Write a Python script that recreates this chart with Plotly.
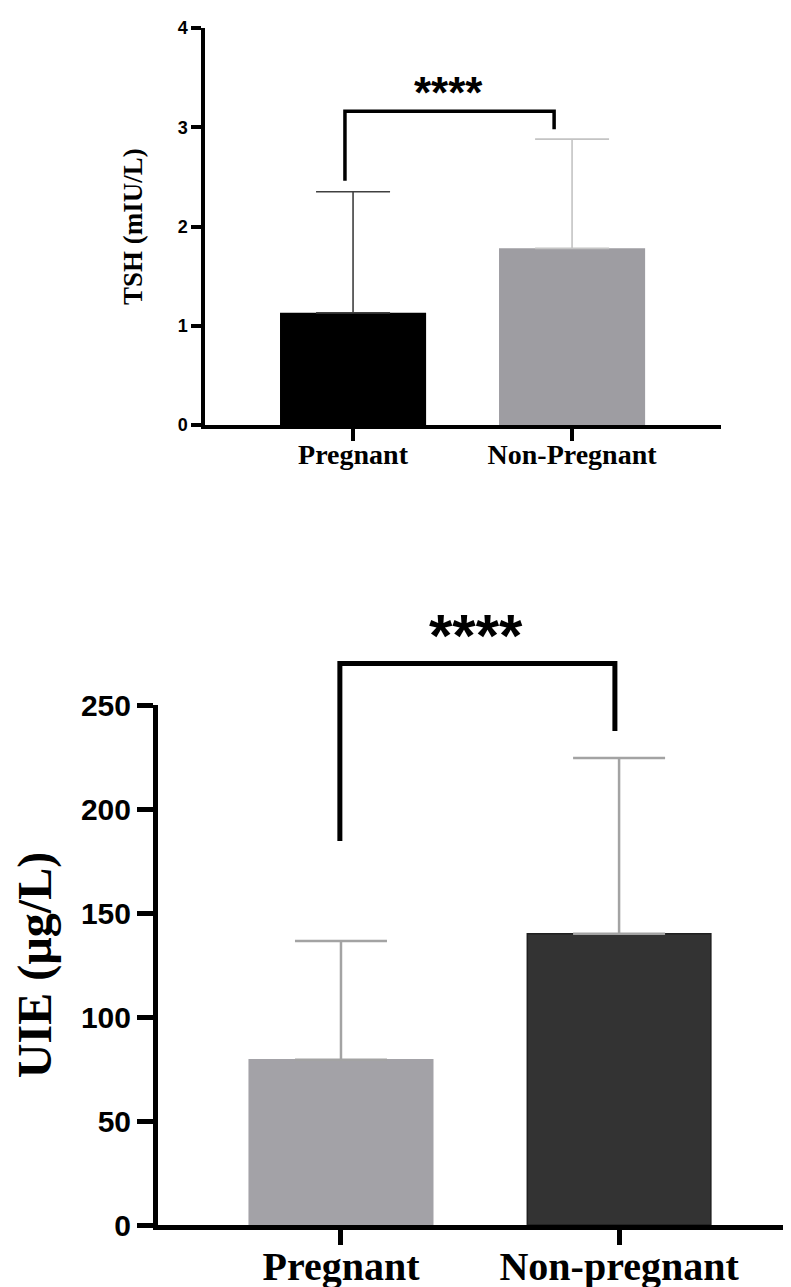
import plotly.graph_objects as go

# ---------------- data ----------------
tsh_categories = ["Pregnant", "Non-Pregnant"]
tsh_mean = [1.13, 1.78]
tsh_sd = [1.22, 1.10]
tsh_ticks = [0, 1, 2, 3, 4]
tsh_sig = "****"
tsh_bracket = [2.46, 3.16, 2.98]   # left foot, top, right foot (mIU/L)

uie_categories = ["Pregnant", "Non-pregnant"]
uie_mean = [79.5, 140.0]
uie_sd = [57.0, 84.5]
uie_ticks = [0, 50, 100, 150, 200, 250]
uie_sig = "****"
uie_bracket = [184.6, 270.0, 237.5]

# ---------------- styles ----------------
W, H = 791, 1287
tsh_bar_colors = ["#000000", "#9e9da2"]
tsh_err_colors = ["#404040", "#c4c4c4"]
uie_bar_colors = ["#a3a2a7", "#333333"]
uie_line_colors = ["#a3a2a7", "#1f1f1f"]
uie_err_colors = ["#a3a3a3", "#a3a3a3"]

serif = "Liberation Serif, Times New Roman, serif"
sans = "Liberation Sans, Arial, sans-serif"

fig = go.Figure()

tsh_x = list(range(len(tsh_categories)))
for i, cat in enumerate(tsh_categories):
    fig.add_trace(go.Bar(
        x=[tsh_x[i]], y=[tsh_mean[i]], name=cat, width=0.667,
        marker=dict(color=tsh_bar_colors[i], line=dict(width=0)),
        error_y=dict(type="data", array=[tsh_sd[i]], arrayminus=[0], symmetric=False,
                     color=tsh_err_colors[i], thickness=1.6, width=37),
        xaxis="x", yaxis="y", showlegend=False,
    ))

uie_x = list(range(len(uie_categories)))
for i, cat in enumerate(uie_categories):
    fig.add_trace(go.Bar(
        x=[uie_x[i]], y=[uie_mean[i]], name=cat, width=0.66,
        marker=dict(color=uie_bar_colors[i], line=dict(width=1.5, color=uie_line_colors[i])),
        error_y=dict(type="data", array=[uie_sd[i]], arrayminus=[0], symmetric=False,
                     color=uie_err_colors[i], thickness=2.5, width=46),
        xaxis="x2", yaxis="y2", showlegend=False,
    ))

tsh_max = tsh_ticks[-1]
uie_max = uie_ticks[-1]

fig.update_layout(
    width=W, height=H,
    margin=dict(l=0, r=0, t=0, b=0, autoexpand=False),
    paper_bgcolor="white", plot_bgcolor="white",
    barmode="overlay",
    xaxis=dict(domain=[197 / W, 713 / W], range=[-0.676, 1.68], anchor="y", automargin=False,
               tickvals=tsh_x, ticktext=tsh_categories, showgrid=False, zeroline=False,
               showline=True, linecolor="black", linewidth=3.5,
               ticks="outside", ticklen=12, tickwidth=3.5, tickcolor="black",
               ticklabelstandoff=-10,
               tickfont=dict(family=serif, size=28, color="black", weight="bold")),
    yaxis=dict(domain=[1 - 417 / H, 1 - 20 / H], range=[0, tsh_max], anchor="x", automargin=False,
               tickvals=tsh_ticks, showgrid=False, zeroline=False,
               showline=True, linecolor="black", linewidth=3.5,
               ticks="outside", ticklen=10, tickwidth=3.5, tickcolor="black",
               tickfont=dict(family=sans, size=18, color="black", weight="bold"),
               title=dict(text="TSH (mIU/L)", standoff=28,
                          font=dict(family=serif, size=27, color="black", weight="bold"))),
    xaxis2=dict(domain=[150 / W, 1.0], range=[-0.658, 1.647], anchor="y2", automargin=False,
                tickvals=uie_x, ticktext=uie_categories, showgrid=False, zeroline=False,
                showline=True, linecolor="black", linewidth=5,
                ticks="outside", ticklen=15, tickwidth=5, tickcolor="black",
                ticklabelstandoff=-13,
                tickfont=dict(family=serif, size=40, color="black", weight="bold")),
    yaxis2=dict(domain=[1 - 1217 / H, 1 - 697 / H], range=[0, uie_max], anchor="x2", automargin=False,
                tickvals=uie_ticks, showgrid=False, zeroline=False,
                showline=True, linecolor="black", linewidth=5,
                ticks="outside", ticklen=16, tickwidth=5, tickcolor="black",
                tickfont=dict(family=sans, size=30, color="black", weight="bold"),
                title=dict(text="UIE (µg/L)", standoff=20,
                           font=dict(family=serif, size=48, color="black", weight="bold"))),
)

# significance brackets
def bracket(xref, yref, x0, x1, vals, ymax, lw):
    l, t, r = [v / ymax for v in vals]
    fig.add_shape(type="path", xref=xref, yref=yref,
                  path=f"M {x0},{l} L {x0},{t} L {x1},{t} L {x1},{r}",
                  line=dict(color="black", width=lw))

bracket("x", "y domain", -0.037, 0.918, tsh_bracket, tsh_max, 3.5)
bracket("x2", "y2 domain", -0.004, 0.985, uie_bracket, uie_max, 5)

fig.add_annotation(x=0.438, y=3.345 / tsh_max, xref="x", yref="y domain", text=tsh_sig,
                   showarrow=False, yanchor="middle", yshift=1,
                   font=dict(family=sans, size=44, color="black", weight="bold"))
fig.add_annotation(x=0.486, y=283.7 / uie_max, xref="x2", yref="y2 domain", text=uie_sig,
                   showarrow=False, yanchor="middle", yshift=-1,
                   font=dict(family=sans, size=60, color="black", weight="bold"))

fig.write_html("out.html")
